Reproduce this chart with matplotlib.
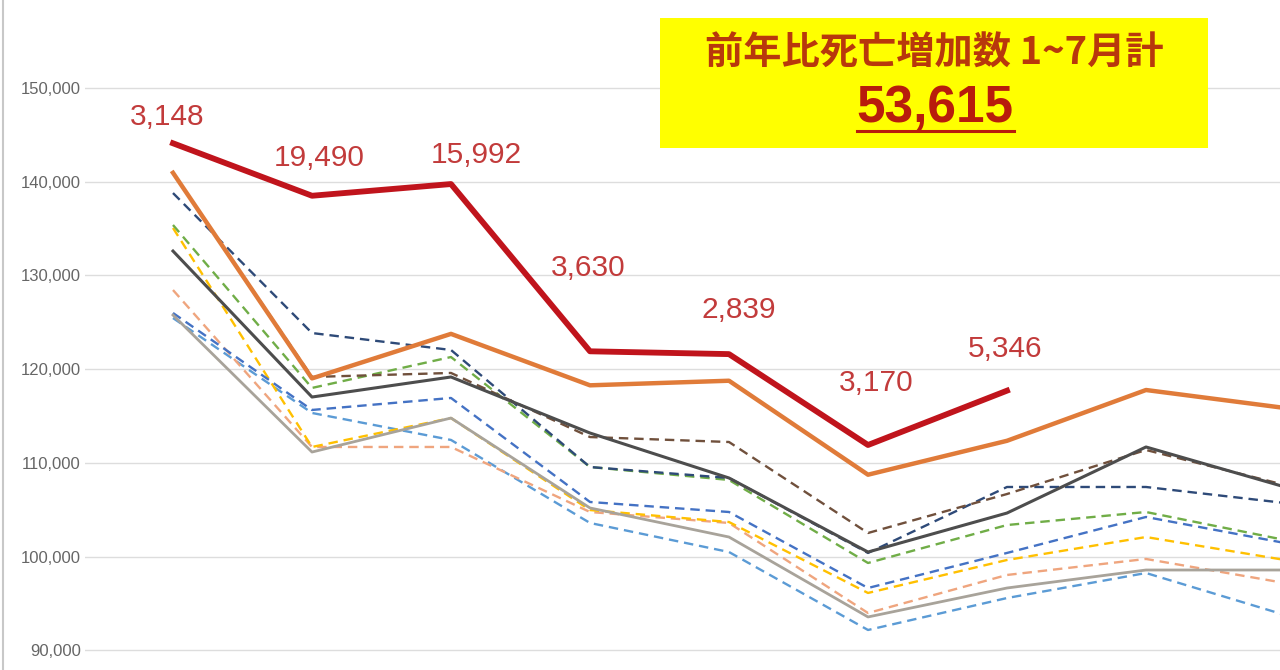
import matplotlib.pyplot as plt
from matplotlib.patches import Rectangle
from matplotlib.lines import Line2D

months = [1, 2, 3, 4, 5, 6, 7, 8, 9]

# 2022 (Jan-Jul) and the year before
deaths_red = [144100, 138500, 139750, 121900, 121600, 111900, 117700]
deaths_orange = [140950, 119010, 123760, 118270, 118760, 108730, 112350, 117770, 115850]
diff_labels = ["3,148", "19,490", "15,992", "3,630", "2,839", "3,170", "5,346"]

# older years
deaths_darkgray = [132600, 117020, 119160, 113180, 108380, 100480, 104640, 111690, 107420]
deaths_brown = [140930, 119160, 119590, 112750, 112220, 102510, 106670, 111370, 107630]
deaths_navy = [138790, 123850, 122040, 109550, 108380, 100380, 107420, 107420, 105710]
deaths_green = [135380, 117990, 121290, 109550, 108170, 99310, 103360, 104750, 101760]
deaths_blue = [125990, 115640, 116920, 105820, 104750, 96640, 100380, 104220, 101440]
deaths_yellow = [135060, 111690, 114780, 104960, 103680, 96110, 99630, 102080, 99630]
deaths_lorange = [128440, 111690, 111690, 104750, 103580, 93970, 98030, 99740, 97170]
deaths_lgray = [125770, 111150, 114780, 105180, 102080, 93550, 96640, 98560, 98560]
deaths_lblue = [125450, 115320, 112440, 103580, 100480, 92160, 95570, 98240, 93760]

yticks = [90000, 100000, 110000, 120000, 130000, 140000, 150000]

box_title = "前年比死亡増加数 1~7月計"
box_total = "53,615"

fig = plt.figure(figsize=(12.8, 6.7), dpi=100)
ax = fig.add_axes([85 / 1280, 0, 1195 / 1280, 1])

dash = (0, (4, 2.5))
dashed = [
    (deaths_lblue, "#5B9BD5"),
    (deaths_lorange, "#EFA57E"),
    (deaths_yellow, "#FFC000"),
    (deaths_blue, "#4472C4"),
    (deaths_green, "#70AD47"),
    (deaths_navy, "#2E4A78"),
    (deaths_brown, "#70503C"),
]
for vals, col in dashed:
    ax.plot(months, vals, color=col, lw=1.7, linestyle=dash)

ax.plot(months, deaths_lgray, color="#A8A39A", lw=2.0)
ax.plot(months, deaths_darkgray, color="#4D4D4D", lw=2.2)
ax.plot(months, deaths_orange, color="#E07B39", lw=3.2)
ax.plot(months[:len(deaths_red)], deaths_red, color="#C0141C", lw=4.2)

# label offsets (points) for the red line
offsets = [(-4, 19), (5, 27), (18, 21), (-1, 60), (7, 32), (6, 45), (-1, 30)]
for m, v, lab, off in zip(months, deaths_red, diff_labels, offsets):
    ax.annotate(lab, (m, v), xytext=off, textcoords="offset points",
                ha="center", va="center", fontsize=21.5, color="#C23B3B",
                family="Liberation Sans")

ax.set_xlim(0.367, 8.964)
ax.set_ylim(87889, 159391)
ax.set_yticks(yticks)
ax.set_yticklabels([f"{t:,}" for t in yticks])
ax.set_xticks([])
ax.tick_params(axis="y", length=0, pad=3, labelsize=12, labelcolor="#666666")
for lab in ax.get_yticklabels():
    lab.set_family("Liberation Sans")
ax.grid(axis="y", color="#DDDDDD", lw=1)
ax.set_axisbelow(True)
for s in ax.spines.values():
    s.set_visible(False)

# yellow summary box
fig.patches.append(Rectangle((660 / 1280, 1 - 148 / 670), 548 / 1280, 130 / 670,
                             transform=fig.transFigure, facecolor="#FFFF00",
                             edgecolor="none", zorder=5))
fig.text(934 / 1280, 1 - 53 / 670, box_title, ha="center", va="center",
         fontsize=27.5, color="#B8380C", weight="bold",
         family=["Noto Sans CJK JP", "DejaVu Sans"], zorder=6)
total = fig.text(935 / 1280, 1 - 108 / 670, box_total, ha="center", va="center",
                 fontsize=37, color="#B81C0C", weight="bold",
                 family="Liberation Sans", zorder=6)

# underline under the total
fig.canvas.draw()
bb = total.get_window_extent()
uy = (bb.y0 + 2) / fig.bbox.height
fig.lines.append(Line2D([bb.x0 / fig.bbox.width, bb.x1 / fig.bbox.width], [uy, uy],
                        transform=fig.transFigure, color="#B81C0C", lw=2.2, zorder=6))

# thin frame line on the left edge
fig.lines.append(Line2D([0.002, 0.002], [0, 1], transform=fig.transFigure,
                        color="#C8C8C8", lw=1.5))

fig.savefig("out.png", dpi=100)
